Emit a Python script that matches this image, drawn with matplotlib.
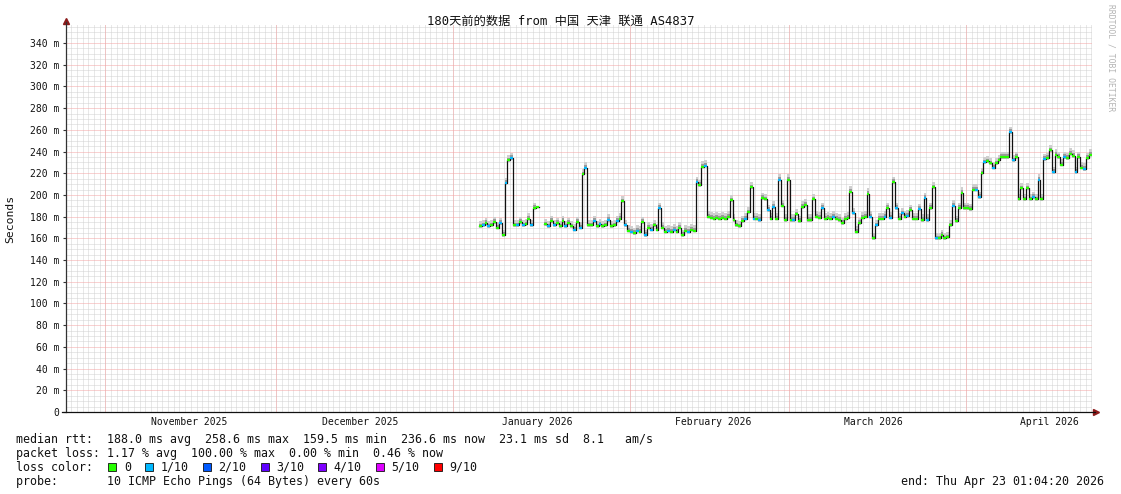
import numpy as np
import matplotlib
matplotlib.use("Agg")
import matplotlib.pyplot as plt
import matplotlib.dates as mdates
from matplotlib.collections import LineCollection
from matplotlib.patches import Rectangle
from datetime import datetime, timedelta

nan = np.nan

win_start = datetime(2025, 10, 25, 1, 4, 20)
win_end = datetime(2026, 4, 23, 1, 4, 20)
data_start = datetime(2026, 1, 5, 13, 0)
step = timedelta(hours=12)

# median rtt (ms), one value every 12 hours from data_start
median_ms = [
    171, 172, 174, 171, 172, 175, 170, 174, 163, 211,
    232, 234, 172, 172, 175, 172, 173, 178, 172, 188,
    189, nan, nan, 173, 171, 176, 172, 174, 171, 176,
    171, 174, 171, 168, 175, 170, 219, 225, 172, 172,
    176, 171, 173, 171, 172, 177, 171, 172, 176, 178,
    194, 172, 167, 166, 165, 167, 166, 175, 163, 170,
    168, 172, 168, 188, 170, 166, 167, 166, 168, 166,
    170, 163, 167, 166, 168, 167, 212, 209, 226, 227,
    180, 179, 178, 179, 178, 179, 178, 180, 195, 177,
    172, 171, 176, 178, 184, 207, 178, 178, 177, 197,
    196, 186, 178, 189, 178, 214, 190, 177, 214, 177,
    177, 182, 176, 189, 191, 177, 177, 196, 180, 179,
    188, 178, 179, 178, 180, 178, 177, 174, 178, 179,
    203, 183, 166, 174, 179, 180, 201, 180, 160, 172,
    178, 178, 180, 188, 179, 212, 188, 178, 183, 180,
    181, 186, 178, 178, 187, 177, 197, 177, 188, 207,
    160, 160, 163, 160, 161, 172, 190, 176, 188, 202,
    188, 188, 187, 205, 205, 198, 220, 230, 231, 229,
    225, 229, 232, 235, 235, 235, 258, 232, 235, 196,
    206, 196, 206, 196, 198, 196, 214, 196, 233, 234,
    241, 221, 237, 235, 228, 235, 234, 238, 236, 221,
    235, 225, 224, 234, 237,
]

# steps with 1/10 packet loss (others had no loss)
loss1_steps = [1, 3, 7, 9, 11, 13, 15, 18, 24, 26, 30, 33, 35, 37, 40, 42, 45,
               48, 51, 53, 55, 58, 60, 63, 66, 68, 73, 76, 79, 93, 96, 98, 101,
               103, 105, 110, 120, 124, 131, 137, 139, 142, 144, 146, 148, 150,
               154, 156, 157, 160, 166, 174, 175, 177, 180, 186, 187, 194, 196,
               198, 201, 205, 209, 212]

month_starts = [datetime(2025, 11, 1), datetime(2025, 12, 1), datetime(2026, 1, 1),
                datetime(2026, 2, 1), datetime(2026, 3, 1), datetime(2026, 4, 1)]
month_labels = ["November 2025", "December 2025", "January 2026",
                "February 2026", "March 2026", "April 2026"]

y_ticks = list(range(0, 341, 20))

loss_names = ["0", "1/10", "2/10", "3/10", "4/10", "5/10", "9/10"]
loss_colors = ["#26ff00", "#00b8ff", "#0059ff", "#5e00ff", "#7e00ff", "#dd00ff", "#ff0000"]

title = "180天前的数据 from 中国 天津 联通 AS4837"
stats_rtt = "median rtt:  188.0 ms avg  258.6 ms max  159.5 ms min  236.6 ms now  23.1 ms sd  8.1   am/s"
stats_loss = "packet loss: 1.17 % avg  100.00 % max  0.00 % min  0.46 % now"
probe_text = "probe:       10 ICMP Echo Pings (64 Bytes) every 60s"
end_text = "end: Thu Apr 23 01:04:20 2026"

MONO = "DejaVu Sans Mono"
W, H = 1121, 494


def px(x, y):
    return x / W, 1 - y / H


fig = plt.figure(figsize=(W / 100, H / 100), dpi=100)
fig.patch.set_facecolor("white")
ax = fig.add_axes([65.7 / W, 82 / H, 1026 / W, 387 / H])
ax.set_xlim(mdates.date2num(win_start), mdates.date2num(win_end))
ax.set_ylim(0, 356.6)
for s in ax.spines.values():
    s.set_visible(False)

# dotted grid
dash = (0, (1, 1))
for v in range(5, 357, 5):
    if v % 20:
        ax.axhline(v, color="#d2d2d2", lw=0.72, ls=dash, zorder=0)
day = datetime(2025, 10, 26)
while day < win_end:
    ax.axvline(mdates.date2num(day), color="#d2d2d2", lw=0.72, ls=dash, zorder=0)
    day += timedelta(days=1)
for v in y_ticks[1:]:
    ax.axhline(v, color="#f4a4a4", lw=0.72, ls=dash, zorder=0.5)
for m in month_starts:
    ax.axvline(mdates.date2num(m), color="#f4a4a4", lw=0.72, ls=dash, zorder=0.5)

# data
n = len(median_ms)
x_edges = mdates.date2num([data_start + step * i for i in range(n + 1)])
med = np.array(median_ms + [median_ms[-1]], dtype=float)
ax.fill_between(x_edges, med - 1.5, med + 5, step="post", color="#cfcfcf", lw=0, zorder=2)
ax.fill_between(x_edges, med - 0.5, med + 2.5, step="post", color="#9a9a9a", lw=0, zorder=2.1)
ax.step(x_edges, med, where="post", color="#111111", lw=0.9, zorder=3)

segs, cols = [], []
for i, v in enumerate(median_ms):
    if np.isnan(v):
        continue
    segs.append([(x_edges[i], v), (x_edges[i + 1], v)])
    cols.append(loss_colors[1] if i in loss1_steps else loss_colors[0])
ax.add_collection(LineCollection(segs, colors=cols, linewidths=1.6, zorder=4))

# axes
ax.set_yticks(y_ticks)
ax.set_yticklabels(["0" if t == 0 else f"{t} m" for t in y_ticks], family=MONO, fontsize=7)
ax.set_xticks([])
ax.tick_params(axis="y", length=2.5, width=0.8, pad=2, color="#333333", labelcolor="#111111")
ax.plot([0, 0], [0, 1.008], transform=ax.transAxes, color="#333333", lw=0.9, clip_on=False, zorder=5)
ax.plot([-0.004, 1.003], [0, 0], transform=ax.transAxes, color="#111111", lw=0.9, clip_on=False, zorder=5)
ax.plot([0], [1.01], marker="^", ms=4, color="#8b1a1a", transform=ax.transAxes, clip_on=False)
ax.plot([1.004], [0], marker=">", ms=4, color="#8b1a1a", transform=ax.transAxes, clip_on=False)

xtr = ax.get_xaxis_transform()
for m, lab in zip(month_starts, month_labels):
    ax.text(mdates.date2num(m + timedelta(days=14.7)), -0.027, lab, transform=xtr,
            ha="center", va="center", family=MONO, fontsize=7, color="#111111")

# texts
fig.text(*px(560.5, 21.5), title, ha="center", va="center", fontsize=8.8,
         family=[MONO, "Noto Sans CJK SC"], color="#111111")
fig.text(*px(10, 219), "Seconds", rotation=90, ha="center", va="center",
         family=MONO, fontsize=8.2, color="#111111")
fig.text(*px(1111, 58), "RRDTOOL / TOBI OETIKER", rotation=270, ha="center", va="center",
         family=MONO, fontsize=5.8, color="#b4b4b4")

fs = 8.4
fig.text(*px(16, 442.5), stats_rtt, family=MONO, fontsize=fs, va="baseline", color="#111111")
fig.text(*px(16, 456.5), stats_loss, family=MONO, fontsize=fs, va="baseline", color="#111111")
fig.text(*px(16, 470.5), "loss color:", family=MONO, fontsize=fs, va="baseline", color="#111111")
fig.text(*px(16, 484.5), probe_text, family=MONO, fontsize=fs, va="baseline", color="#111111")
fig.text(*px(1104, 484.5), end_text, family=MONO, fontsize=fs, va="baseline", ha="right", color="#111111")

bx = 108.3
for name, c in zip(loss_names, loss_colors):
    x0, y0 = px(bx, 471)
    fig.patches.append(Rectangle((x0, y0), 8 / W, 8 / H, transform=fig.transFigure,
                                 facecolor=c, edgecolor="#111111", lw=0.6))
    lx = bx + 15.5
    fig.text(*px(lx, 470.5), name, family=MONO, fontsize=fs, va="baseline", color="#111111")
    bx = lx + (len(name) + 2) * 7.05

fig.savefig("out.png", dpi=100)
